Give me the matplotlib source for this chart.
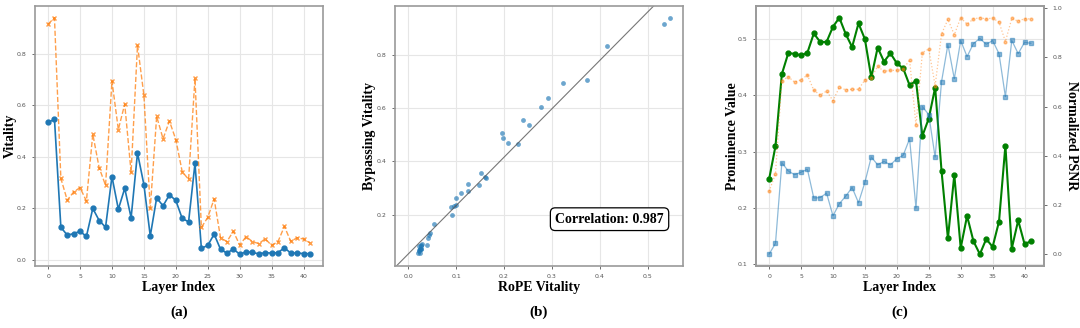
import numpy as np
import matplotlib
matplotlib.use('Agg')
import matplotlib.pyplot as plt

layers = np.arange(42)

# (a) / (b) vitality per layer
rope_vitality = [0.534, 0.546, 0.126, 0.095, 0.101, 0.110, 0.090, 0.199, 0.152, 0.126,
                 0.323, 0.196, 0.277, 0.163, 0.415, 0.292, 0.092, 0.240, 0.209, 0.252,
                 0.230, 0.160, 0.147, 0.374, 0.044, 0.055, 0.099, 0.040, 0.025, 0.041,
                 0.021, 0.030, 0.028, 0.022, 0.027, 0.025, 0.027, 0.046, 0.025, 0.026,
                 0.023, 0.023]
bypass_vitality = [0.916, 0.941, 0.316, 0.231, 0.263, 0.280, 0.228, 0.488, 0.357, 0.289,
                   0.695, 0.506, 0.605, 0.339, 0.834, 0.640, 0.199, 0.557, 0.470, 0.539,
                   0.467, 0.342, 0.312, 0.705, 0.125, 0.164, 0.236, 0.085, 0.070, 0.110,
                   0.057, 0.089, 0.070, 0.062, 0.081, 0.055, 0.070, 0.129, 0.071, 0.085,
                   0.080, 0.065]
corr_text = 'Correlation: 0.987'

# (c) prominence and normalized PSNR
prominence = [0.251, 0.310, 0.438, 0.475, 0.474, 0.471, 0.476, 0.510, 0.495, 0.495,
              0.522, 0.538, 0.509, 0.486, 0.528, 0.500, 0.432, 0.485, 0.460, 0.475,
              0.457, 0.448, 0.418, 0.426, 0.328, 0.359, 0.414, 0.266, 0.146, 0.259,
              0.129, 0.186, 0.141, 0.118, 0.145, 0.131, 0.176, 0.311, 0.128, 0.178,
              0.136, 0.141]
psnr_blue = [0.000, 0.044, 0.372, 0.338, 0.323, 0.333, 0.345, 0.228, 0.230, 0.248,
             0.156, 0.205, 0.236, 0.271, 0.209, 0.292, 0.395, 0.363, 0.377, 0.363,
             0.388, 0.402, 0.469, 0.187, 0.600, 0.567, 0.394, 0.701, 0.852, 0.713,
             0.868, 0.803, 0.856, 0.877, 0.853, 0.868, 0.815, 0.640, 0.869, 0.815,
             0.861, 0.857]
psnr_orange = [0.255, 0.327, 0.705, 0.721, 0.699, 0.709, 0.728, 0.666, 0.647, 0.663,
               0.624, 0.678, 0.668, 0.670, 0.670, 0.708, 0.718, 0.763, 0.743, 0.747,
               0.747, 0.751, 0.790, 0.524, 0.819, 0.834, 0.685, 0.895, 0.954, 0.892,
               0.961, 0.935, 0.956, 0.961, 0.956, 0.960, 0.943, 0.864, 0.958, 0.947,
               0.957, 0.956]

serif = ['Liberation Serif', 'DejaVu Serif']
lab = dict(family=serif, fontweight='bold', fontsize=10)


def style(ax):
    ax.grid(True, color='#e6e6e6', lw=0.8)
    ax.set_axisbelow(True)
    for s in ax.spines.values():
        s.set_color('#9a9a9a')
        s.set_linewidth(1.2)
    ax.tick_params(labelsize=4.5, colors='#555555', length=2.5, width=0.6)


def labels(ax, xl, yl, yx):
    ax.set_xlabel(xl, **lab)
    ax.xaxis.set_label_coords(0.5, -0.081)
    ax.xaxis.label.set_va('center')
    ax.set_ylabel(yl, **lab)
    ax.yaxis.set_label_coords(yx, 0.5)
    ax.yaxis.label.set_va('center')


fig = plt.figure(figsize=(10.8, 3.28), dpi=100)
ax1 = fig.add_axes([0.0324, 0.189, 0.2667, 0.793])
ax2 = fig.add_axes([0.3657, 0.189, 0.2667, 0.793])
ax3 = fig.add_axes([0.7000, 0.189, 0.2667, 0.793])

# (a)
style(ax1)
ax1.plot(layers, rope_vitality, '-o', color='#1f77b4', lw=1.2, ms=3.5)
ax1.plot(layers, bypass_vitality, '--x', color='#ff7f0e', lw=1.0, ms=3.5, alpha=0.75)
ax1.set_xticks(range(0, 41, 5))
ax1.set_yticks([0.0, 0.2, 0.4, 0.6, 0.8])
labels(ax1, 'Layer Index', 'Vitality', -0.087)

# (b)
style(ax2)
ax2.scatter(rope_vitality, bypass_vitality, s=12, color='#1f77b4', alpha=0.65, lw=0)
k, b = np.polyfit(rope_vitality, bypass_vitality, 1)
ax2.axline((0, b), slope=k, color='#555555', lw=0.8, alpha=0.8)
ax2.set_xticks([0.0, 0.1, 0.2, 0.3, 0.4, 0.5])
ax2.set_yticks([0.2, 0.4, 0.6, 0.8])
ax2.text(0.745, 0.18, corr_text, transform=ax2.transAxes, ha='center', va='center',
         family=serif, fontweight='bold', fontsize=10,
         bbox=dict(boxstyle='round,pad=0.35', fc='white', ec='black', lw=0.9))
labels(ax2, 'RoPE Vitality', 'Bypassing Vitality', -0.087)

# (c)
style(ax3)
ax3.plot(layers, prominence, '-o', color='green', lw=1.5, ms=3.5)
ax3.set_xticks(range(0, 41, 5))
ax3.set_yticks([0.1, 0.2, 0.3, 0.4, 0.5])
labels(ax3, 'Layer Index', 'Prominence Value', -0.08)
ax3b = ax3.twinx()
ax3b.plot(layers, psnr_blue, '-s', color='#1f77b4', lw=0.9, ms=2.5, alpha=0.5)
ax3b.plot(layers, psnr_orange, ':o', color='#ff7f0e', lw=0.9, ms=2.0, alpha=0.45)
ax3b.set_yticks([0.0, 0.2, 0.4, 0.6, 0.8, 1.0])
ax3b.tick_params(labelsize=4.5, colors='#555555', length=2.5, width=0.6)
for s in ax3b.spines.values():
    s.set_color('#9a9a9a')
    s.set_linewidth(1.2)
ax3b.set_ylabel('Normalized PSNR', rotation=270, **lab)
ax3b.yaxis.set_label_coords(1.094, 0.5)
ax3b.yaxis.label.set_va('center')

for ax, tag in [(ax1, '(a)'), (ax2, '(b)'), (ax3, '(c)')]:
    ax.text(0.5, -0.177, tag, transform=ax.transAxes, ha='center', va='center',
            family=serif, fontweight='bold', fontsize=11)

fig.savefig('out.png', dpi=100)
